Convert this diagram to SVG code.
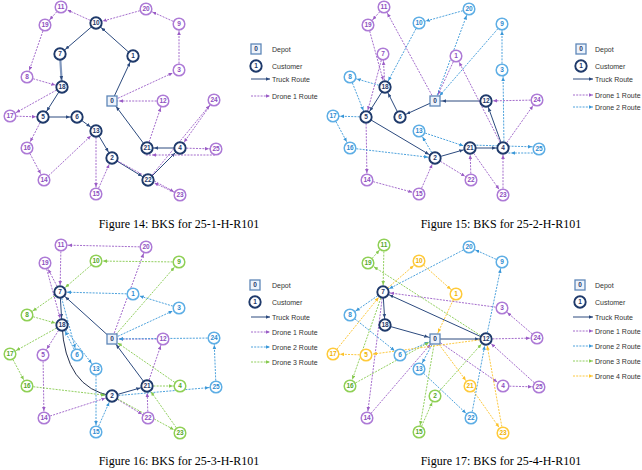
<svg xmlns="http://www.w3.org/2000/svg" width="642" height="470" viewBox="0 0 642 470">
<style>
text{font-family:"Liberation Sans",Arial,sans-serif}
.nt circle,.n1 circle,.n2 circle,.n3 circle,.n4 circle{fill:#fff}
.nt circle{stroke:#1f3a6b;stroke-width:1.9}
.n1 circle{stroke:#ad7ad6;stroke-width:1.5}
.n2 circle{stroke:#5eaee5;stroke-width:1.5}
.n3 circle{stroke:#8fd055;stroke-width:1.5}
.n4 circle{stroke:#ffca3a;stroke-width:1.5}
.nd rect{fill:#eef3fb;stroke:#5f87b8;stroke-width:1.3}
.nt text,.n1 text,.n2 text,.n3 text,.n4 text,.nd text{font-size:6.5px;font-weight:bold;text-anchor:middle}
.nt text,.nd text{fill:#1f3a6b}
.n1 text{fill:#8d4fbf}
.n2 text{fill:#2f8bd0}
.n3 text{fill:#55a82a}
.n4 text{fill:#efb200}
.t{stroke:#2c4a7e;stroke-width:1;fill:none;marker-end:url(#mt)}
.d1{stroke:#9a5cc6;stroke-width:0.9;stroke-dasharray:2 1.2;fill:none;marker-end:url(#m1)}
.d2{stroke:#3a97d8;stroke-width:0.9;stroke-dasharray:2 1.2;fill:none;marker-end:url(#m2)}
.d3{stroke:#86c94e;stroke-width:0.9;stroke-dasharray:2 1.2;fill:none;marker-end:url(#m3)}
.d4{stroke:#fcc22a;stroke-width:0.9;stroke-dasharray:2 1.2;fill:none;marker-end:url(#m4)}
.lt{stroke:#2c4a7e;stroke-width:1;marker-end:url(#lmt)}
.l1{stroke:#9a5cc6;stroke-width:0.9;stroke-dasharray:2 1.2;marker-end:url(#lm1)}
.l2{stroke:#3a97d8;stroke-width:0.9;stroke-dasharray:2 1.2;marker-end:url(#lm2)}
.l3{stroke:#86c94e;stroke-width:0.9;stroke-dasharray:2 1.2;marker-end:url(#lm3)}
.l4{stroke:#fcc22a;stroke-width:0.9;stroke-dasharray:2 1.2;marker-end:url(#lm4)}
.lg{font-size:7px;fill:#333}
.cap{font-family:"Liberation Serif","Times New Roman",serif;font-size:12px;text-anchor:middle;fill:#000}
</style>
<defs>
<marker id="mt" viewBox="0 0 4 4" refX="11" refY="2" markerWidth="4" markerHeight="4" markerUnits="userSpaceOnUse" orient="auto"><path d="M0,0.2L4,2L0,3.8z" fill="#2c4a7e"/></marker>
<marker id="m1" viewBox="0 0 4 4" refX="11" refY="2" markerWidth="4" markerHeight="4" markerUnits="userSpaceOnUse" orient="auto"><path d="M0,0.2L4,2L0,3.8z" fill="#9a5cc6"/></marker>
<marker id="m2" viewBox="0 0 4 4" refX="11" refY="2" markerWidth="4" markerHeight="4" markerUnits="userSpaceOnUse" orient="auto"><path d="M0,0.2L4,2L0,3.8z" fill="#3a97d8"/></marker>
<marker id="m3" viewBox="0 0 4 4" refX="11" refY="2" markerWidth="4" markerHeight="4" markerUnits="userSpaceOnUse" orient="auto"><path d="M0,0.2L4,2L0,3.8z" fill="#86c94e"/></marker>
<marker id="m4" viewBox="0 0 4 4" refX="11" refY="2" markerWidth="4" markerHeight="4" markerUnits="userSpaceOnUse" orient="auto"><path d="M0,0.2L4,2L0,3.8z" fill="#fcc22a"/></marker>
<marker id="lmt" viewBox="0 0 4 4" refX="4" refY="2" markerWidth="4" markerHeight="4" markerUnits="userSpaceOnUse" orient="auto"><path d="M0,0.2L4,2L0,3.8z" fill="#2c4a7e"/></marker>
<marker id="lm1" viewBox="0 0 4 4" refX="4" refY="2" markerWidth="4" markerHeight="4" markerUnits="userSpaceOnUse" orient="auto"><path d="M0,0.2L4,2L0,3.8z" fill="#9a5cc6"/></marker>
<marker id="lm2" viewBox="0 0 4 4" refX="4" refY="2" markerWidth="4" markerHeight="4" markerUnits="userSpaceOnUse" orient="auto"><path d="M0,0.2L4,2L0,3.8z" fill="#3a97d8"/></marker>
<marker id="lm3" viewBox="0 0 4 4" refX="4" refY="2" markerWidth="4" markerHeight="4" markerUnits="userSpaceOnUse" orient="auto"><path d="M0,0.2L4,2L0,3.8z" fill="#86c94e"/></marker>
<marker id="lm4" viewBox="0 0 4 4" refX="4" refY="2" markerWidth="4" markerHeight="4" markerUnits="userSpaceOnUse" orient="auto"><path d="M0,0.2L4,2L0,3.8z" fill="#fcc22a"/></marker>
</defs>
<rect width="642" height="470" fill="#fff"/>

<!-- ================= Figure 14 ================= -->
<g id="fig14">
<g id="fig14-connectors">
<g class="t">
<line x1="112" y1="101" x2="133" y2="56"/>
<line x1="133" y1="56" x2="96" y2="23"/>
<line x1="96" y1="23" x2="60" y2="54"/>
<line x1="60" y1="54" x2="62" y2="87" style="stroke:#8198bd;stroke-width:2.2"/>
<line x1="62" y1="87" x2="43" y2="117"/>
<line x1="43" y1="117" x2="77" y2="117"/>
<line x1="77" y1="117" x2="96" y2="131"/>
<line x1="96" y1="131" x2="112" y2="158"/>
<line x1="112" y1="158" x2="148" y2="180"/>
<line x1="148" y1="180" x2="180" y2="148"/>
<line x1="180" y1="148" x2="147" y2="148"/>
<line x1="147" y1="148" x2="112" y2="101"/>
</g>
<g class="d1">
<line x1="112" y1="101" x2="179" y2="70"/>
<line x1="179" y1="70" x2="179" y2="24"/>
<line x1="179" y1="24" x2="146" y2="9"/>
<line x1="146" y1="9" x2="96" y2="23"/>
<line x1="96" y1="23" x2="61" y2="7"/>
<line x1="61" y1="7" x2="45" y2="25"/>
<line x1="45" y1="25" x2="27" y2="77"/>
<line x1="27" y1="77" x2="62" y2="87"/>
<line x1="62" y1="87" x2="10" y2="116"/>
<line x1="10" y1="116" x2="43" y2="117"/>
<line x1="43" y1="117" x2="27" y2="148"/>
<line x1="27" y1="148" x2="44" y2="180"/>
<line x1="44" y1="180" x2="96" y2="131"/>
<line x1="96" y1="131" x2="96" y2="194"/>
<line x1="96" y1="194" x2="112" y2="158"/>
<line x1="112" y1="158" x2="180" y2="195"/>
<line x1="180" y1="195" x2="148" y2="180"/>
<line x1="148" y1="180" x2="214" y2="100"/>
<line x1="214" y1="100" x2="180" y2="148"/>
<line x1="180" y1="148" x2="216" y2="149"/>
<line x1="215" y1="155" x2="145" y2="155"/>
<line x1="147" y1="148" x2="163" y2="101"/>
<line x1="163" y1="101" x2="112" y2="101"/>
</g>
</g>
<g id="fig14-nodes">
<g id="f14-n0" class="nd"><rect x="107" y="96" width="10" height="10"/><text x="112" y="103.3">0</text></g>
<g id="f14-n1" class="nt"><circle cx="133" cy="56" r="5.7"/><text x="133" y="58.3">1</text></g>
<g id="f14-n2" class="nt"><circle cx="112" cy="158" r="5.7"/><text x="112" y="160.3">2</text></g>
<g id="f14-n3" class="n1"><circle cx="179" cy="70" r="5.8"/><text x="179" y="72.3">3</text></g>
<g id="f14-n4" class="nt"><circle cx="180" cy="148" r="5.7"/><text x="180" y="150.3">4</text></g>
<g id="f14-n5" class="nt"><circle cx="43" cy="117" r="5.7"/><text x="43" y="119.3">5</text></g>
<g id="f14-n6" class="nt"><circle cx="77" cy="117" r="5.7"/><text x="77" y="119.3">6</text></g>
<g id="f14-n7" class="nt"><circle cx="60" cy="54" r="5.7"/><text x="60" y="56.3">7</text></g>
<g id="f14-n8" class="n1"><circle cx="27" cy="77" r="5.8"/><text x="27" y="79.3">8</text></g>
<g id="f14-n9" class="n1"><circle cx="179" cy="24" r="5.8"/><text x="179" y="26.3">9</text></g>
<g id="f14-n10" class="nt"><circle cx="96" cy="23" r="5.7"/><text x="96" y="25.3">10</text></g>
<g id="f14-n11" class="n1"><circle cx="61" cy="7" r="5.8"/><text x="61" y="9.3">11</text></g>
<g id="f14-n12" class="n1"><circle cx="163" cy="101" r="5.8"/><text x="163" y="103.3">12</text></g>
<g id="f14-n13" class="nt"><circle cx="96" cy="131" r="5.7"/><text x="96" y="133.3">13</text></g>
<g id="f14-n14" class="n1"><circle cx="44" cy="180" r="5.8"/><text x="44" y="182.3">14</text></g>
<g id="f14-n15" class="n1"><circle cx="96" cy="194" r="5.8"/><text x="96" y="196.3">15</text></g>
<g id="f14-n16" class="n1"><circle cx="27" cy="148" r="5.8"/><text x="27" y="150.3">16</text></g>
<g id="f14-n17" class="n1"><circle cx="10" cy="116" r="5.8"/><text x="10" y="118.3">17</text></g>
<g id="f14-n18" class="nt"><circle cx="62" cy="87" r="5.7"/><text x="62" y="89.3">18</text></g>
<g id="f14-n19" class="n1"><circle cx="45" cy="25" r="5.8"/><text x="45" y="27.3">19</text></g>
<g id="f14-n20" class="n1"><circle cx="146" cy="9" r="5.8"/><text x="146" y="11.3">20</text></g>
<g id="f14-n21" class="nt"><circle cx="147" cy="148" r="5.7"/><text x="147" y="150.3">21</text></g>
<g id="f14-n22" class="nt"><circle cx="148" cy="180" r="5.7"/><text x="148" y="182.3">22</text></g>
<g id="f14-n23" class="n1"><circle cx="180" cy="195" r="5.8"/><text x="180" y="197.3">23</text></g>
<g id="f14-n24" class="n1"><circle cx="214" cy="100" r="5.8"/><text x="214" y="102.3">24</text></g>
<g id="f14-n25" class="n1"><circle cx="216" cy="149" r="5.8"/><text x="216" y="151.3">25</text></g>
</g>
</g>
<g id="fig14-legend">
<g class="nd"><rect x="251" y="44" width="10" height="10"/><text x="256" y="51.3">0</text></g>
<g class="nt"><circle cx="256" cy="66" r="5.7"/><text x="256" y="68.3">1</text></g>
<line class="lt" x1="251" y1="79" x2="270" y2="79"/>
<line class="l1" x1="251" y1="96" x2="270" y2="96"/>
<text class="lg" x="272" y="51.5">Depot</text>
<text class="lg" x="272" y="68.5">Customer</text>
<text class="lg" x="272" y="81.5">Truck Route</text>
<text class="lg" x="272" y="98.5">Drone 1 Route</text>
</g>
<text class="cap" x="179" y="228">Figure 14: BKS for 25-1-H-R101</text>

<!-- ================= Figure 15 ================= -->
<g id="fig15" transform="translate(323,0)">
<g id="fig15-connectors">
<g class="t">
<line x1="112" y1="101" x2="77" y2="117"/>
<line x1="77" y1="117" x2="62" y2="87"/>
<line x1="62" y1="87" x2="43" y2="117"/>
<line x1="43" y1="117" x2="112" y2="158"/>
<line x1="112" y1="158" x2="147" y2="148"/>
<line x1="147" y1="148" x2="180" y2="148"/>
<line x1="180" y1="148" x2="163" y2="101"/>
<line x1="163" y1="101" x2="112" y2="101"/>
</g>
<g class="d1">
<line x1="112" y1="101" x2="61" y2="7"/>
<line x1="61" y1="7" x2="45" y2="25"/>
<line x1="45" y1="25" x2="62" y2="87"/>
<line x1="62" y1="87" x2="60" y2="54"/>
<line x1="60" y1="54" x2="43" y2="117"/>
<line x1="43" y1="117" x2="44" y2="180"/>
<line x1="44" y1="180" x2="96" y2="194"/>
<line x1="96" y1="194" x2="112" y2="158"/>
<line x1="112" y1="158" x2="148" y2="180"/>
<line x1="148" y1="180" x2="147" y2="148"/>
<line x1="147" y1="148" x2="180" y2="195"/>
<line x1="180" y1="195" x2="180" y2="148"/>
<line x1="180" y1="148" x2="214" y2="100"/>
<line x1="214" y1="100" x2="163" y2="101"/>
<line x1="180" y1="148" x2="133" y2="56"/>
<line x1="133" y1="56" x2="112" y2="101"/>
</g>
<g class="d2">
<line x1="112" y1="101" x2="146" y2="9"/>
<line x1="146" y1="9" x2="96" y2="23"/>
<line x1="96" y1="23" x2="62" y2="87"/>
<line x1="62" y1="87" x2="27" y2="77"/>
<line x1="27" y1="77" x2="43" y2="117"/>
<line x1="43" y1="117" x2="10" y2="116"/>
<line x1="10" y1="116" x2="27" y2="148"/>
<line x1="27" y1="148" x2="112" y2="158"/>
<line x1="112" y1="158" x2="96" y2="131"/>
<line x1="96" y1="131" x2="147" y2="148"/>
<line x1="147" y1="145" x2="216" y2="147"/>
<line x1="213" y1="153" x2="181" y2="153"/>
<line x1="181" y1="148" x2="180" y2="70"/>
<line x1="179" y1="70" x2="179" y2="24"/>
<line x1="179" y1="24" x2="112" y2="101"/>
</g>
</g>
<g id="fig15-nodes">
<g id="f15-n0" class="nd"><rect x="107" y="96" width="10" height="10"/><text x="112" y="103.3">0</text></g>
<g id="f15-n1" class="n1"><circle cx="133" cy="56" r="5.8"/><text x="133" y="58.3">1</text></g>
<g id="f15-n2" class="nt"><circle cx="112" cy="158" r="5.7"/><text x="112" y="160.3">2</text></g>
<g id="f15-n3" class="n2"><circle cx="179" cy="70" r="5.8"/><text x="179" y="72.3">3</text></g>
<g id="f15-n4" class="nt"><circle cx="180" cy="148" r="5.7"/><text x="180" y="150.3">4</text></g>
<g id="f15-n5" class="nt"><circle cx="43" cy="117" r="5.7"/><text x="43" y="119.3">5</text></g>
<g id="f15-n6" class="nt"><circle cx="77" cy="117" r="5.7"/><text x="77" y="119.3">6</text></g>
<g id="f15-n7" class="n1"><circle cx="60" cy="54" r="5.8"/><text x="60" y="56.3">7</text></g>
<g id="f15-n8" class="n2"><circle cx="27" cy="77" r="5.8"/><text x="27" y="79.3">8</text></g>
<g id="f15-n9" class="n2"><circle cx="179" cy="24" r="5.8"/><text x="179" y="26.3">9</text></g>
<g id="f15-n10" class="n2"><circle cx="96" cy="23" r="5.8"/><text x="96" y="25.3">10</text></g>
<g id="f15-n11" class="n1"><circle cx="61" cy="7" r="5.8"/><text x="61" y="9.3">11</text></g>
<g id="f15-n12" class="nt"><circle cx="163" cy="101" r="5.7"/><text x="163" y="103.3">12</text></g>
<g id="f15-n13" class="n2"><circle cx="96" cy="131" r="5.8"/><text x="96" y="133.3">13</text></g>
<g id="f15-n14" class="n1"><circle cx="44" cy="180" r="5.8"/><text x="44" y="182.3">14</text></g>
<g id="f15-n15" class="n1"><circle cx="96" cy="194" r="5.8"/><text x="96" y="196.3">15</text></g>
<g id="f15-n16" class="n2"><circle cx="27" cy="148" r="5.8"/><text x="27" y="150.3">16</text></g>
<g id="f15-n17" class="n2"><circle cx="10" cy="116" r="5.8"/><text x="10" y="118.3">17</text></g>
<g id="f15-n18" class="nt"><circle cx="62" cy="87" r="5.7"/><text x="62" y="89.3">18</text></g>
<g id="f15-n19" class="n1"><circle cx="45" cy="25" r="5.8"/><text x="45" y="27.3">19</text></g>
<g id="f15-n20" class="n2"><circle cx="146" cy="9" r="5.8"/><text x="146" y="11.3">20</text></g>
<g id="f15-n21" class="nt"><circle cx="147" cy="148" r="5.7"/><text x="147" y="150.3">21</text></g>
<g id="f15-n22" class="n1"><circle cx="148" cy="180" r="5.8"/><text x="148" y="182.3">22</text></g>
<g id="f15-n23" class="n1"><circle cx="180" cy="195" r="5.8"/><text x="180" y="197.3">23</text></g>
<g id="f15-n24" class="n1"><circle cx="214" cy="100" r="5.8"/><text x="214" y="102.3">24</text></g>
<g id="f15-n25" class="n2"><circle cx="216" cy="149" r="5.8"/><text x="216" y="151.3">25</text></g>
</g>
</g>
<g id="fig15-legend">
<g class="nd"><rect x="576" y="44" width="10" height="10"/><text x="581" y="51.3">0</text></g>
<g class="nt"><circle cx="581" cy="66" r="5.7"/><text x="581" y="68.3">1</text></g>
<line class="lt" x1="573" y1="79" x2="593" y2="79"/>
<line class="l1" x1="573" y1="95" x2="593" y2="95"/>
<line class="l2" x1="573" y1="107" x2="593" y2="107"/>
<text class="lg" x="595" y="51.5">Depot</text>
<text class="lg" x="595" y="68.5">Customer</text>
<text class="lg" x="595" y="81.5">Truck Route</text>
<text class="lg" x="595" y="97.5">Drone 1 Route</text>
<text class="lg" x="595" y="109.5">Drone 2 Route</text>
</g>
<text class="cap" x="501" y="228">Figure 15: BKS for 25-2-H-R101</text>

<!-- ================= Figure 16 ================= -->
<g id="fig16" transform="translate(0,238)">
<g id="fig16-connectors">
<g class="t">
<line x1="112" y1="101" x2="60" y2="54"/>
<line x1="60" y1="54" x2="62" y2="87"/>
<path d="M62,87 Q65,150 112,158" style="stroke:#26324f"/>
<line x1="112" y1="158" x2="147" y2="148"/>
<line x1="147" y1="148" x2="112" y2="101"/>
</g>
<g class="d1">
<line x1="112" y1="101" x2="146" y2="9"/>
<line x1="146" y1="9" x2="61" y2="7"/>
<line x1="61" y1="7" x2="60" y2="54"/>
<line x1="60" y1="54" x2="45" y2="25"/>
<line x1="45" y1="25" x2="62" y2="87"/>
<line x1="62" y1="87" x2="43" y2="117"/>
<line x1="43" y1="117" x2="44" y2="180"/>
<line x1="44" y1="180" x2="112" y2="158"/>
<line x1="112" y1="158" x2="148" y2="180"/>
<line x1="148" y1="180" x2="147" y2="148"/>
<line x1="147" y1="148" x2="163" y2="101"/>
<line x1="163" y1="101" x2="112" y2="101"/>
</g>
<g class="d2">
<line x1="112" y1="101" x2="179" y2="70"/>
<line x1="179" y1="70" x2="133" y2="56"/>
<line x1="133" y1="56" x2="60" y2="54"/>
<line x1="60" y1="54" x2="77" y2="117"/>
<line x1="77" y1="117" x2="62" y2="87"/>
<line x1="62" y1="87" x2="96" y2="131"/>
<line x1="96" y1="131" x2="96" y2="194"/>
<line x1="96" y1="194" x2="112" y2="158"/>
<line x1="112" y1="158" x2="216" y2="149"/>
<line x1="216" y1="149" x2="214" y2="100"/>
<line x1="214" y1="100" x2="112" y2="101"/>
</g>
<g class="d3">
<line x1="112" y1="101" x2="179" y2="24"/>
<line x1="179" y1="24" x2="96" y2="23"/>
<line x1="96" y1="23" x2="60" y2="54"/>
<line x1="60" y1="54" x2="27" y2="77"/>
<line x1="27" y1="77" x2="62" y2="87"/>
<line x1="62" y1="87" x2="10" y2="116"/>
<line x1="10" y1="116" x2="27" y2="148"/>
<line x1="27" y1="148" x2="112" y2="158"/>
<line x1="112" y1="158" x2="180" y2="195"/>
<line x1="180" y1="195" x2="147" y2="148"/>
<line x1="147" y1="148" x2="180" y2="148"/>
<line x1="180" y1="148" x2="112" y2="101"/>
</g>
</g>
<g id="fig16-nodes">
<g id="f16-n0" class="nd"><rect x="107" y="96" width="10" height="10"/><text x="112" y="103.3">0</text></g>
<g id="f16-n1" class="n2"><circle cx="133" cy="56" r="5.8"/><text x="133" y="58.3">1</text></g>
<g id="f16-n2" class="nt"><circle cx="112" cy="158" r="5.7"/><text x="112" y="160.3">2</text></g>
<g id="f16-n3" class="n2"><circle cx="179" cy="70" r="5.8"/><text x="179" y="72.3">3</text></g>
<g id="f16-n4" class="n3"><circle cx="180" cy="148" r="5.8"/><text x="180" y="150.3">4</text></g>
<g id="f16-n5" class="n1"><circle cx="43" cy="117" r="5.8"/><text x="43" y="119.3">5</text></g>
<g id="f16-n6" class="n2"><circle cx="77" cy="117" r="5.8"/><text x="77" y="119.3">6</text></g>
<g id="f16-n7" class="nt"><circle cx="60" cy="54" r="5.7"/><text x="60" y="56.3">7</text></g>
<g id="f16-n8" class="n3"><circle cx="27" cy="77" r="5.8"/><text x="27" y="79.3">8</text></g>
<g id="f16-n9" class="n3"><circle cx="179" cy="24" r="5.8"/><text x="179" y="26.3">9</text></g>
<g id="f16-n10" class="n3"><circle cx="96" cy="23" r="5.8"/><text x="96" y="25.3">10</text></g>
<g id="f16-n11" class="n1"><circle cx="61" cy="7" r="5.8"/><text x="61" y="9.3">11</text></g>
<g id="f16-n12" class="n1"><circle cx="163" cy="101" r="5.8"/><text x="163" y="103.3">12</text></g>
<g id="f16-n13" class="n2"><circle cx="96" cy="131" r="5.8"/><text x="96" y="133.3">13</text></g>
<g id="f16-n14" class="n1"><circle cx="44" cy="180" r="5.8"/><text x="44" y="182.3">14</text></g>
<g id="f16-n15" class="n2"><circle cx="96" cy="194" r="5.8"/><text x="96" y="196.3">15</text></g>
<g id="f16-n16" class="n3"><circle cx="27" cy="148" r="5.8"/><text x="27" y="150.3">16</text></g>
<g id="f16-n17" class="n3"><circle cx="10" cy="116" r="5.8"/><text x="10" y="118.3">17</text></g>
<g id="f16-n18" class="nt"><circle cx="62" cy="87" r="5.7"/><text x="62" y="89.3">18</text></g>
<g id="f16-n19" class="n1"><circle cx="45" cy="25" r="5.8"/><text x="45" y="27.3">19</text></g>
<g id="f16-n20" class="n1"><circle cx="146" cy="9" r="5.8"/><text x="146" y="11.3">20</text></g>
<g id="f16-n21" class="nt"><circle cx="147" cy="148" r="5.7"/><text x="147" y="150.3">21</text></g>
<g id="f16-n22" class="n1"><circle cx="148" cy="180" r="5.8"/><text x="148" y="182.3">22</text></g>
<g id="f16-n23" class="n3"><circle cx="180" cy="195" r="5.8"/><text x="180" y="197.3">23</text></g>
<g id="f16-n24" class="n2"><circle cx="214" cy="100" r="5.8"/><text x="214" y="102.3">24</text></g>
<g id="f16-n25" class="n2"><circle cx="216" cy="149" r="5.8"/><text x="216" y="151.3">25</text></g>
</g>
</g>
<g id="fig16-legend">
<g class="nd"><rect x="250" y="280" width="10" height="10"/><text x="255" y="287.3">0</text></g>
<g class="nt"><circle cx="255" cy="302" r="5.7"/><text x="255" y="304.3">1</text></g>
<line class="lt" x1="251" y1="317" x2="270" y2="317"/>
<line class="l1" x1="251" y1="332" x2="270" y2="332"/>
<line class="l2" x1="251" y1="347" x2="270" y2="347"/>
<line class="l3" x1="251" y1="362" x2="270" y2="362"/>
<text class="lg" x="272" y="287.5">Depot</text>
<text class="lg" x="272" y="304.5">Customer</text>
<text class="lg" x="272" y="319.5">Truck Route</text>
<text class="lg" x="272" y="334.5">Drone 1 Route</text>
<text class="lg" x="272" y="349.5">Drone 2 Route</text>
<text class="lg" x="272" y="364.5">Drone 3 Route</text>
</g>
<text class="cap" x="179" y="465">Figure 16: BKS for 25-3-H-R101</text>

<!-- ================= Figure 17 ================= -->
<g id="fig17" transform="translate(323,238)">
<g id="fig17-connectors">
<g class="t">
<line x1="163" y1="101" x2="60" y2="54"/>
<line x1="60" y1="54" x2="62" y2="87"/>
<line x1="62" y1="87" x2="112" y2="101"/>
<line x1="112" y1="101" x2="163" y2="101"/>
</g>
<g class="d1">
<line x1="163" y1="101" x2="214" y2="100"/>
<line x1="214" y1="100" x2="179" y2="70"/>
<line x1="179" y1="70" x2="60" y2="54"/>
<line x1="60" y1="54" x2="44" y2="180"/>
<line x1="44" y1="180" x2="112" y2="101"/>
<line x1="112" y1="101" x2="180" y2="148"/>
<line x1="180" y1="148" x2="216" y2="149"/>
<line x1="216" y1="149" x2="163" y2="101"/>
</g>
<g class="d2">
<line x1="60" y1="54" x2="27" y2="77"/>
<line x1="27" y1="77" x2="77" y2="117"/>
<line x1="77" y1="117" x2="112" y2="101"/>
<line x1="112" y1="101" x2="96" y2="131"/>
<line x1="96" y1="131" x2="148" y2="180"/>
<line x1="148" y1="180" x2="163" y2="101"/>
<line x1="163" y1="101" x2="179" y2="24"/>
<line x1="179" y1="24" x2="146" y2="9"/>
<line x1="146" y1="9" x2="60" y2="54"/>
</g>
<g class="d3">
<line x1="163" y1="101" x2="45" y2="25"/>
<line x1="45" y1="25" x2="61" y2="7"/>
<line x1="61" y1="7" x2="60" y2="54"/>
<line x1="60" y1="54" x2="27" y2="148"/>
<line x1="27" y1="148" x2="112" y2="101"/>
<line x1="112" y1="101" x2="96" y2="194"/>
<line x1="96" y1="194" x2="112" y2="158"/>
<line x1="112" y1="158" x2="163" y2="101"/>
</g>
<g class="d4">
<line x1="60" y1="54" x2="96" y2="23"/>
<line x1="96" y1="23" x2="133" y2="56"/>
<line x1="133" y1="56" x2="112" y2="101"/>
<line x1="112" y1="101" x2="147" y2="148"/>
<line x1="147" y1="148" x2="180" y2="195"/>
<line x1="180" y1="195" x2="163" y2="101"/>
<line x1="163" y1="101" x2="43" y2="117"/>
<line x1="43" y1="117" x2="10" y2="116"/>
<line x1="10" y1="116" x2="60" y2="54"/>
</g>
</g>
<g id="fig17-nodes">
<g id="f17-n0" class="nd"><rect x="107" y="96" width="10" height="10"/><text x="112" y="103.3">0</text></g>
<g id="f17-n1" class="n4"><circle cx="133" cy="56" r="5.8"/><text x="133" y="58.3">1</text></g>
<g id="f17-n2" class="n3"><circle cx="112" cy="158" r="5.8"/><text x="112" y="160.3">2</text></g>
<g id="f17-n3" class="n1"><circle cx="179" cy="70" r="5.8"/><text x="179" y="72.3">3</text></g>
<g id="f17-n4" class="n1"><circle cx="180" cy="148" r="5.8"/><text x="180" y="150.3">4</text></g>
<g id="f17-n5" class="n4"><circle cx="43" cy="117" r="5.8"/><text x="43" y="119.3">5</text></g>
<g id="f17-n6" class="n2"><circle cx="77" cy="117" r="5.8"/><text x="77" y="119.3">6</text></g>
<g id="f17-n7" class="nt"><circle cx="60" cy="54" r="5.7"/><text x="60" y="56.3">7</text></g>
<g id="f17-n8" class="n2"><circle cx="27" cy="77" r="5.8"/><text x="27" y="79.3">8</text></g>
<g id="f17-n9" class="n2"><circle cx="179" cy="24" r="5.8"/><text x="179" y="26.3">9</text></g>
<g id="f17-n10" class="n4"><circle cx="96" cy="23" r="5.8"/><text x="96" y="25.3">10</text></g>
<g id="f17-n11" class="n3"><circle cx="61" cy="7" r="5.8"/><text x="61" y="9.3">11</text></g>
<g id="f17-n12" class="nt"><circle cx="163" cy="101" r="5.7"/><text x="163" y="103.3">12</text></g>
<g id="f17-n13" class="n2"><circle cx="96" cy="131" r="5.8"/><text x="96" y="133.3">13</text></g>
<g id="f17-n14" class="n1"><circle cx="44" cy="180" r="5.8"/><text x="44" y="182.3">14</text></g>
<g id="f17-n15" class="n3"><circle cx="96" cy="194" r="5.8"/><text x="96" y="196.3">15</text></g>
<g id="f17-n16" class="n3"><circle cx="27" cy="148" r="5.8"/><text x="27" y="150.3">16</text></g>
<g id="f17-n17" class="n4"><circle cx="10" cy="116" r="5.8"/><text x="10" y="118.3">17</text></g>
<g id="f17-n18" class="nt"><circle cx="62" cy="87" r="5.7"/><text x="62" y="89.3">18</text></g>
<g id="f17-n19" class="n3"><circle cx="45" cy="25" r="5.8"/><text x="45" y="27.3">19</text></g>
<g id="f17-n20" class="n2"><circle cx="146" cy="9" r="5.8"/><text x="146" y="11.3">20</text></g>
<g id="f17-n21" class="n4"><circle cx="147" cy="148" r="5.8"/><text x="147" y="150.3">21</text></g>
<g id="f17-n22" class="n2"><circle cx="148" cy="180" r="5.8"/><text x="148" y="182.3">22</text></g>
<g id="f17-n23" class="n4"><circle cx="180" cy="195" r="5.8"/><text x="180" y="197.3">23</text></g>
<g id="f17-n24" class="n1"><circle cx="214" cy="100" r="5.8"/><text x="214" y="102.3">24</text></g>
<g id="f17-n25" class="n1"><circle cx="216" cy="149" r="5.8"/><text x="216" y="151.3">25</text></g>
</g>
</g>
<g id="fig17-legend">
<g class="nd"><rect x="575" y="280" width="10" height="10"/><text x="580" y="287.3">0</text></g>
<g class="nt"><circle cx="580" cy="302" r="5.7"/><text x="580" y="304.3">1</text></g>
<line class="lt" x1="573" y1="317" x2="593" y2="317"/>
<line class="l1" x1="573" y1="331" x2="593" y2="331"/>
<line class="l2" x1="573" y1="346" x2="593" y2="346"/>
<line class="l3" x1="573" y1="361" x2="593" y2="361"/>
<line class="l4" x1="573" y1="376" x2="593" y2="376"/>
<text class="lg" x="595" y="287.5">Depot</text>
<text class="lg" x="595" y="304.5">Customer</text>
<text class="lg" x="595" y="319.5">Truck Route</text>
<text class="lg" x="595" y="333.5">Drone 1 Route</text>
<text class="lg" x="595" y="348.5">Drone 2 Route</text>
<text class="lg" x="595" y="363.5">Drone 3 Route</text>
<text class="lg" x="595" y="378.5">Drone 4 Route</text>
</g>
<text class="cap" x="501" y="465">Figure 17: BKS for 25-4-H-R101</text>
</svg>
